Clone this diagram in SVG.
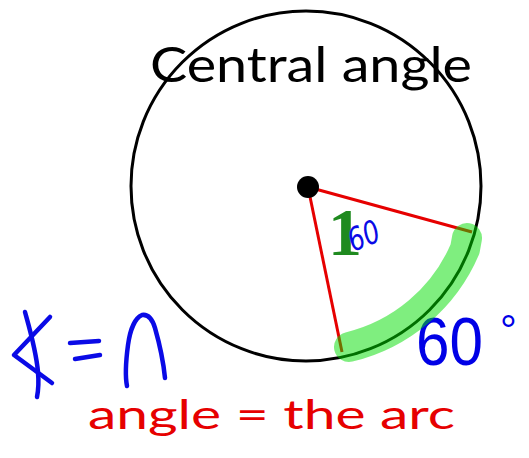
<svg xmlns="http://www.w3.org/2000/svg" width="529" height="458" viewBox="0 0 529 458">
<style>
.ink{fill:none;stroke:#0a0ae6;stroke-width:4.5;stroke-linecap:round;stroke-linejoin:round}
.red{stroke:#e60000;stroke-width:3;fill:none}
</style>
<rect width="529" height="458" fill="#fff"/>
<g id="circle"><circle cx="306" cy="186" r="175" fill="none" stroke="#000" stroke-width="3"/></g>
<g id="title"><text x="150" y="82" font-family="Lato, 'Liberation Sans', sans-serif" font-size="48" textLength="322" lengthAdjust="spacingAndGlyphs" fill="#000">Central angle</text></g>
<g id="connectors">
<line class="red" x1="308" y1="187" x2="472" y2="232"/>
<line class="red" x1="308" y1="187" x2="342" y2="352"/>
</g>
<g id="center"><circle cx="308" cy="187" r="11" fill="#000"/></g>
<g id="label-one"><text x="328" y="255" font-family="'Liberation Serif', serif" font-weight="bold" font-size="68" fill="#1f8a1f">1</text></g>
<g id="label-small60"><text x="0" y="0" transform="translate(353,252) rotate(-22)" font-family="'DejaVu Sans', sans-serif" font-style="italic" font-size="32" textLength="32" lengthAdjust="spacingAndGlyphs" fill="#0a0ae6">60</text></g>
<g id="label-60"><text x="416" y="365" font-family="'Liberation Sans', sans-serif" font-size="68" textLength="67" lengthAdjust="spacingAndGlyphs" fill="#0000e6">60</text>
<text x="500" y="345" font-family="'Liberation Sans', sans-serif" font-size="42" fill="#0000e6">°</text></g>
<g id="handwriting">
<path class="ink" d="M25 312 C30 330 36 350 38 372 C39 384 38 392 37 397"/>
<path class="ink" d="M50 317 L14 355 L52 383"/>
<path class="ink" d="M70 343 L99 341"/>
<path class="ink" d="M75 359 L100 355"/>
<path class="ink" d="M127 386 C125 376 126 360 128 345 C130 330 135 318 142 315 C148 314 152 318 155 328 C159 342 163 358 165 378"/>
</g>
<g id="arc-highlight"><path d="M467 238 L465 249 A 169 169 0 0 1 349 347" fill="none" stroke="#00dd00" stroke-opacity="0.5" stroke-width="30" stroke-linecap="round" stroke-linejoin="round"/></g>
<g id="caption"><text x="88" y="429" font-family="Lato, 'Liberation Sans', sans-serif" font-size="40" textLength="367" lengthAdjust="spacingAndGlyphs" fill="#e60000">angle = the arc</text></g>
</svg>
